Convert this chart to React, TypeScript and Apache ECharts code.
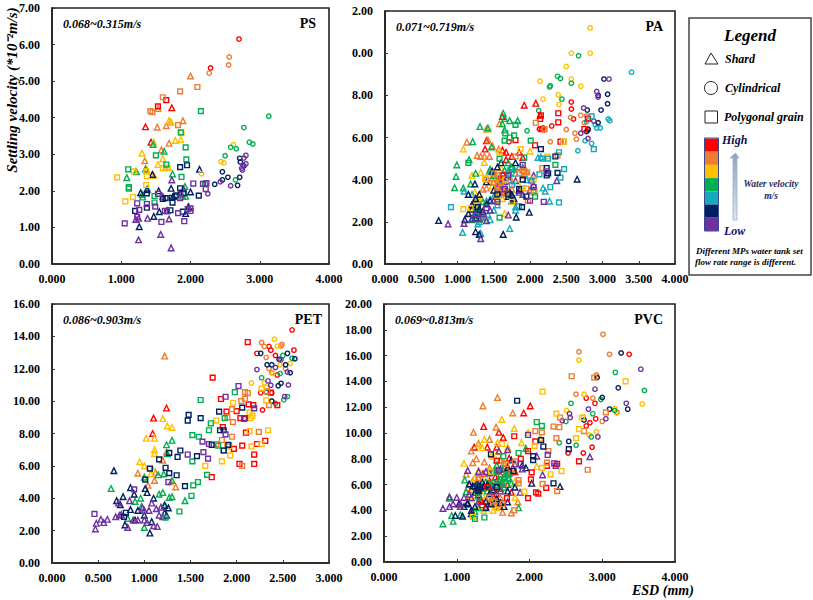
import React, { useEffect, useRef } from "react";
import * as echarts from "echarts";

const COLORS = ["#FF0000", "#ED7D31", "#FFC000", "#00B050", "#17A9BD", "#002060", "#7030A0"];
const FONT = '"Liberation Serif", "Times New Roman", serif';

// every list: [red, orange, yellow, green, cyan, navy, purple], points [ESD, velocity]
const psCircle = [
  [[2.7,6.15],[2.29,5.36]],
  [[2.56,5.66],[2.55,5.44],[2.27,5.22]],
  [[2.62,3.26],[2.44,2.8],[2.48,2.77],[2.16,2.47]],
  [[3.13,4.04],[2.77,3.73],[2.85,3.33],[2.9,3.28],[2.58,3.19],[2.66,3.15],[2.5,2.96],[2.65,2.3]],
  [],
  [[2.71,2.89],[2.72,2.79],[2.77,2.68],[2.46,2.52],[2.54,2.37],[2.71,2.37],[2.46,2.3],[2.35,2.18],[2.68,2.15]],
  [[2.8,2.97],[2.77,2.9],[2.8,2.74],[2.76,2.7],[2.74,2.62],[2.75,2.57],[2.43,2.25],[2.58,2.14],[2.25,1.92]],
];
const psTriangle = [
  [[1.73,4.27],[1.35,3.75],[1.43,3.33]],
  [[2,5.14],[1.53,4.25],[1.52,3.74],[1.65,3.78],[1.71,3.88],[1.89,3.92],[1.69,3.3],[1.58,3.12],[1.34,2.82]],
  [[1.69,3.92],[1.72,3.88],[1.78,3.38],[1.86,3.4],[1.47,3.33],[1.3,3.03],[1.6,2.88],[1.53,2.72],[1.64,2.65],[1.68,2.65],[1.37,2.58],[1.47,2.42],[1.21,2.54]],
  [[1.46,3.27],[1.62,3.08],[1.74,2.46],[1.08,2.36],[1.22,2.52],[1.35,2.6],[1.3,1.9],[1.31,1.83],[1.38,2.05],[1.92,2.12],[1.93,1.85],[1.89,1.85]],
  [],
  [[2.13,2.59],[1.45,2.45],[1.28,1.95],[2,1.97],[1.54,2],[1.72,2.07],[1.26,1.02],[1.47,1.3],[1.55,1.43],[1.66,1.46],[1.93,1.38],[1.97,1.57],[1.37,2.03],[1.75,1.85]],
  [[1.73,2.3],[1.9,2.05],[1.25,1.25],[1.21,1.22],[1.38,1.25],[1.69,1.23],[1.25,0.66],[1.57,0.81],[1.72,0.44],[1.6,1.85],[1.85,1.95]],
];
const psSquare = [
  [[1.65,4.48],[1.53,4.31]],
  [[2.1,4.84],[1.85,4.72],[1.6,4.56],[1.42,4.18],[1.45,4.15],[1.82,3.8]],
  [[1.87,3.58],[0.94,2.37],[1.18,2.53],[1.36,2.54],[1.37,2.4],[1.36,2.16],[1.17,1.83],[1.06,1.71],[1.6,2.62],[1.67,2.62]],
  [[2.15,4.18],[1.86,3.6],[1.93,3.19],[1.5,2.97],[1.94,2.86],[1.65,2.72],[1.1,2.59],[1.87,2.38],[1.11,2.1],[1.11,2.06],[1.48,1.86],[1.48,1.68],[2.21,2.18]],
  [],
  [[1.85,2.65],[1.95,2.7],[1.85,2.07],[1.37,1.93],[1.2,1.45],[1.37,1.54],[1.6,1.78],[1.64,1.8],[1.73,1.81],[1.78,1.85],[1.8,1.88],[1.9,1.93],[2.12,1.87],[1.74,1.68],[1.71,1.47],[1.89,1.43]],
  [[2.04,2.2],[2.18,2.19],[2.23,2.21],[2.22,2.05],[1.23,1.66],[1.37,1.64],[1.26,1.48],[1.49,1.57],[1.23,1.29],[1.05,1.11],[1.58,1.15],[1.63,1.45],[1.66,1.44],[1.82,1.39],[1.91,1.17],[2,1.45],[2,1.52],[1.96,1.5],[1.53,1.92],[1.85,1.8]],
];

const paCircle = [
  [[2.57,7.68],[2.57,7.35],[2.6,6.88],[2.3,6.55],[2.13,6.4],[2.18,6.45],[2.8,6.35],[1.71,5.8]],
  [[2.56,6.95],[2.5,6.38],[2.62,6.2],[2.64,5.92],[2.28,5.8],[2.7,7.05],[2.78,7.02],[2.75,6.7],[2.2,6.35]],
  [[2.83,11.2],[2.57,10],[2.83,10],[2.5,9.37],[2.57,8.77],[2.14,8.67],[2.7,8.43],[2.39,8.03],[2.18,7.82],[2.4,7.57]],
  [[2.67,9.88],[2.38,8.9],[2.42,8.8],[2.28,8.45],[2.27,8.4],[2.57,8.57],[2.44,7.82],[2.12,7.28],[1.96,6.32]],
  [[3.4,9.1],[3.08,6.88],[3.1,6.8],[2.97,6.45],[2.92,6.45],[2.9,6.6],[2.85,5.72],[2.76,5.85],[2.66,5.37],[2.78,6.75]],
  [[3.02,8.77],[3.07,8.05],[2.94,8],[2.98,7.3],[3.07,7.6],[2.79,7.3],[2.94,6.7],[2.8,6.4],[2.78,6.28]],
  [[3.09,8.77],[2.92,8.18],[2.94,7.92],[2.74,7.4],[2.88,6.78],[2.8,5.95],[2.7,6.2]],
];
const paTriangle = [
  [[1.92,7.53],[2.08,7.62],[2.14,7.05],[1.62,7],[1.4,5.85],[1.38,5.45],[1.62,5.4],[1.67,5.3],[1.67,4.95],[1.75,5.1],[1.85,5.3],[1.59,4.15],[1.9,5.05]],
  [[1.58,6.65],[1.4,6.4],[1.13,5.78],[1.42,5.88],[1.48,5.6],[1.57,5.45],[1.27,5.15],[1.32,5.1],[1.37,5.1],[1.44,5.1],[1.5,4.2],[1.4,3.6],[1.35,3.55],[1.9,4.45],[1.5,3.9],[1.55,4],[1.6,3.5],[1.65,3.7],[1.45,3.9],[1.9,4.2],[1.95,4.4],[1.93,4.25],[1.7,4.35],[1.75,3.55],[1.58,3.4],[1.22,2.95]],
  [[1.42,6.4],[1.08,5.45],[1.37,4.82],[1.2,4.2],[1.32,4.35],[1.43,4.35],[1.58,5.35],[1.24,3.4],[1.26,3],[1.28,2.8],[1.27,3.05],[1.15,2.35],[1.36,2.1],[1.65,2.4],[1.52,3.3],[1.55,3.75],[2,5.35],[1.78,3],[1.28,3],[1.28,3.2],[1.3,2.95],[1.29,2.7],[1.33,3.1],[1.5,4.3],[1.6,4.55],[1.55,4.1],[1.72,3.2],[1.62,3.1],[1.2,2.65],[1.48,3.7]],
  [[1.63,7.15],[1.65,6.9],[1.62,6.65],[1.72,6.8],[1.83,6.8],[1.31,6.52],[1.42,6.45],[1.65,6.35],[1.21,5.8],[1.47,5.55],[0.99,4.7],[1.16,4.95],[0.98,4.15],[0.96,3.62],[1.18,3.8],[1.08,3.6],[1.25,4.3],[1.45,4.5],[1.55,3.1],[1.35,2.95],[1.3,2.45],[1.27,2.3],[1.3,2.15],[1.2,2.1],[1.45,3.05],[1.27,2.5],[1.3,2.65],[1.25,2.4],[1.33,2.2],[1.65,4.45],[1.7,4.8],[1.6,4],[1.5,4.2],[1.75,4.6]],
  [[1.07,1.5],[1.72,1.68],[1.32,1.45],[1.09,3.45],[1.2,3.3],[1.25,3.1],[1.4,3],[1.5,2.55],[1.42,2.35],[1.45,4.4],[1.63,4.3],[1.7,4.45],[1.78,4.5],[1.8,2.7],[2.27,2.98],[2.21,3.45],[2.18,3.6],[2.11,5.05],[2.15,5.07],[1.75,3.25],[1.8,2.55],[1.25,2.5],[1.3,2],[1.35,2.2],[1.45,2.1],[1.6,3.8],[1.65,4],[1.72,4.3],[1.8,4.3],[1.5,3.2],[1.55,2.8],[1.28,1.9],[1.9,4.6],[1.95,4],[1.85,4.6],[2.05,3.5]],
  [[0.74,2.06],[1.24,3.8],[1.25,1.53],[1.3,1.4],[1.63,1.4],[1.81,2.22],[1.99,2.45],[2.65,4.02],[1.2,2.15],[1.1,2.1],[1.4,2.85],[1.55,4.6],[1.6,4.8],[1.8,4.8],[1.72,3.4],[1.7,3.2],[1.75,3.3],[1.78,3.1],[1.15,3.3],[1.2,2.6],[1.2,2.8],[1.25,3.1],[1.35,2.5],[1.15,2.4],[1.3,3.3],[1.45,3],[1.5,3.5],[1.62,3.4],[1.68,3.5],[1.4,3.9],[1.48,4.4],[1.75,3],[1.25,2.2],[1.3,2.6],[1.85,3.5]],
  [[0.87,1.9],[1.32,1.2],[1.09,1.92],[1.7,2.32],[1.2,2.15],[1.4,2.05],[1.6,3.55],[2.37,3.95],[1.72,3.95],[1.8,3.95],[2.05,3.75],[1.25,2.4],[1.35,2.4],[2.05,4.2],[1.3,2.15],[1.45,2.55],[1.5,3],[1.55,3.65],[1.65,3.9],[1.85,3.4],[1.9,3.3],[2,3.5],[2.02,4]],
];
const paSquare = [
  [[2.39,7.15],[2.39,6.72],[2.14,6.88],[2.15,7.05],[2.8,6.9],[2.75,6.4],[1.8,5.88],[2.07,5.63],[2.42,5.8],[2.16,6.4],[1.6,4.05],[1.62,4.2]],
  [[2.08,6.7],[2.2,6.4],[2.46,5.8],[2.38,5.15],[2.17,4.55],[1.92,4.4],[1.9,4.45],[1.96,4.35],[1.8,5.1],[1.6,3.6],[1.55,3.5],[1.4,4],[1.65,3.3],[1.95,3.58],[1.97,3],[2.05,3.4],[1.55,4.2],[1.5,4.3],[1.85,4.3],[1.5,3.85],[1.6,3.9],[1.67,3.4],[1.72,3.95]],
  [[1.87,5.45],[2.24,5.1],[1.38,4.05],[1.66,4],[1.08,2.6],[1.18,2.65],[2.47,5.8],[2.05,4],[2.07,3.4],[1.55,3],[1.75,2.95],[1.9,3.6],[1.83,3.8]],
  [[1.65,5.85],[1.66,6.2],[1.8,6.6],[1.78,6.1],[1.72,6],[2.01,5.85],[1.58,5],[1.92,5.05],[2.35,4.7],[2.07,3.2],[1.58,2.2],[1.75,4.5],[1.15,4.8]],
  [[0.91,2.7],[2.4,2.92],[2.88,5.45],[2.85,7],[2.47,4.5],[2.42,4.1],[2.17,5],[2.25,5],[2.4,5.3],[2.28,3.65],[2.02,3.95],[2.13,4.25],[1.85,2.75],[1.75,3.75],[1.7,4.25]],
  [[2.15,5.45],[2.35,5.1],[2.23,4.55],[2.23,4.2],[2.38,4.32],[2.25,4.3],[1.89,2.7],[1.9,4],[1.28,2.7],[1.55,3.3],[1.7,3.3],[1.85,3.55],[1.95,3.2]],
  [[2.19,2.95],[2,3],[1.55,2.95],[1.9,4.7],[2.05,3.65],[1.65,3.55],[1.4,2.65],[1.7,4.2],[2.23,4.4]],
];

const petCircle = [
  [[2.6,14.4],[2.62,13.15],[2.35,13.38],[2.37,13.15],[2.22,12.95],[2.42,12.82],[2.44,11.62],[2.26,10.52],[2.38,10.52],[2.28,9.45]],
  [[2.27,13.62],[2.3,13.38],[2.32,12.7],[2.49,13.5],[2.48,13.4],[2.35,12.02],[2.38,11.75],[2.53,12],[2.38,10]],
  [[2.41,13.82],[2.44,13.4],[2.47,12.25],[2.58,12.33],[2.39,11.7],[2.16,11.12],[2.3,11.12],[2.32,10.85]],
  [[2.5,12.82],[2.6,12.65],[2.27,11.45],[2.55,10.28],[2.51,10.08],[2.32,10.55],[2.47,11.7],[2.42,9.85]],
  [],
  [[2.26,12.95],[2.55,12.95],[2.63,12.62],[2.46,12.58],[2.33,12.25],[2.38,12.25],[2.53,12.25],[2.58,11.75],[2.45,10.95],[2.48,11.1],[2.38,10]],
  [[2.48,12.55],[2.42,12.08],[2.22,11.95],[2.55,11.8],[2.34,11.25],[2.37,10.98],[2.56,11],[2.52,10.28]],
];
const petTriangle = [
  [[1.24,9.57],[1.1,8.95],[1.09,8]],
  [[1.22,12.78],[1.24,6.85],[1.2,6.35],[0.93,5.55],[1.11,5.1],[1.04,4.8],[1.34,4.7],[1.12,5.6]],
  [[1.2,8.92],[1.25,8.47],[1.3,8.37],[1.02,7.7],[1.11,7.7],[1.11,7],[1.11,6.75],[0.95,6.25],[1,6],[1.09,5.8],[1.07,5.5],[1.29,5]],
  [[1.3,7.58],[1.24,7.3],[1.25,6.75],[1.21,5.5],[0.64,4.6],[0.96,4],[1,5.3],[1.15,5.45],[1.3,5.1],[1.16,4.25],[1.2,4.35],[0.9,3.8],[0.97,3.5],[1.44,3.85],[1.27,4.05],[1.3,4.1],[1.22,3.6],[0.82,2.75],[1,2.2]],
  [],
  [[0.67,5.7],[0.85,4.65],[1.01,4.6],[1.03,4.35],[0.77,4.1],[0.89,4.25],[0.7,3.85],[0.74,3.6],[1.22,3.55],[1.26,3.4],[1,2.95],[0.9,2.65],[0.79,2.35],[1.08,2.55],[1.06,1.85],[1.22,3.1],[1.24,2.95],[0.85,3.3],[0.93,3.25],[1.1,4]],
  [[0.47,2.1],[0.48,2.45],[0.53,2.7],[0.56,2.5],[0.6,2.7],[0.69,2.85],[0.73,2.95],[0.75,3],[0.82,2.2],[0.72,3.7],[0.84,3.85],[0.88,2.65],[0.93,2.65],[0.98,3.4],[1,2.65],[1.03,2.5],[1,3.25],[1.05,3.25],[1.08,3.7],[1.1,2.3],[1.13,3.35],[1.14,2.25],[1.16,2.95],[1.18,3.45],[1.2,2.85]],
];
const petSquare = [
  [[2.12,13.65],[1.74,11.45],[1.83,10.13],[2.13,9.8],[2.18,9.75],[1.89,9.35],[2,9.38],[2.04,8.95],[2.08,8.9],[1.85,8.4],[2.1,8.05],[2.06,7.25],[2.22,7.35],[1.97,7.05],[2.19,6.7],[2.31,7.55],[2.03,6.12],[2.19,6.12],[1.73,5.3],[2.44,9.75],[2.37,10.52]],
  [[2.09,10.55],[2.12,10.5],[2.05,10],[2.09,10.15],[1.95,9.5],[1.9,9],[2.35,9.75],[1.96,8.7],[2.24,8.1],[1.84,7.6],[1.95,7.8],[1.9,7.2],[1.78,7.35],[2.06,6],[2.33,10.6]],
  [[2.27,10.78],[2.32,10.05],[1.96,9.9],[2.14,9.3],[2.17,9.1],[2.15,8.95],[1.78,8.8],[2.14,8.15],[2.34,8.2],[1.92,7.25],[2.16,7.2],[2.27,7.35],[1.93,6.65],[1.84,6.28],[1.66,6]],
  [[1.61,10.07],[1.98,10.55],[1.72,8.63],[1.87,8.95],[1.7,8.2],[1.52,7.9],[1.59,7.8],[1.8,7.25],[1.52,6.28],[1.68,5.45],[1.58,5],[1.53,4.8],[1.51,4.15],[1.38,3.18],[1.23,2.8],[1.86,6.95]],
  [],
  [[1.48,9.15],[1.47,8.8],[1.61,8.95],[1.81,9.35],[2.06,9.6],[1.82,8.2],[1.86,8.2],[1.91,7.3],[1.73,7.3],[1.86,6.95],[1.27,6.8],[1.39,6.95],[1.36,6.55],[1.16,6.4],[1.57,6.6],[1.06,5.83],[1.23,5.88],[1.27,5.55],[1.35,5.42],[1.44,4.75],[1.01,5.15],[0.78,2.85],[0.8,3.1]],
  [[2.02,10.93],[1.88,10.27],[2.19,9.55],[2.09,8.95],[1.88,7.95],[1.63,7.5],[1.7,7.35],[1.47,6.7],[1.64,6.85],[1.69,6.45],[1.26,5],[0.89,4.55],[0.46,3.03]],
];

const pvcCircle = [
  [[3.37,16.1],[2.78,12.7],[2.9,12.3],[3.2,11.6],[2.91,11.1],[2.83,10.8],[2.78,10.55],[2.74,8.45],[2.86,8.9],[2.53,8.45]],
  [[3.01,17.65],[2.68,16.3],[3.1,16.1],[2.92,14.5],[2.64,13],[2.87,12.7],[3,10.9]],
  [[2.68,15.65],[2.75,13],[3.55,12.25],[3.17,11.9],[3.2,11.55],[2.51,11.75],[2.92,10.1],[2.82,9.85],[2.74,11.25]],
  [[3.18,14.7],[3.58,13.3],[2.57,12.3],[2.98,12.6],[2.87,11.5],[2.5,10.9],[2.85,9.7],[2.64,9.05],[2.41,9.25],[3.17,11.75]],
  [],
  [[3.26,16.2],[2.93,14.3],[3.22,13.5],[3,12.75],[3.1,11.85],[3.35,11.85],[2.54,9.35],[2.75,11]],
  [[3.53,14.95],[2.9,13.4],[3.33,12.3],[2.81,11.85],[2.55,11.5],[2.56,11.2],[3.05,11.1],[2.45,10.95],[2.94,9.7]],
];
const pvcTriangle = [
  [[2.01,12.1],[1.92,11.55],[1.37,10.5],[1.58,10.05],[1.64,9.65],[1.24,8.9],[1.42,8.9],[1.55,8.9],[1.72,8.05],[1.36,6.85],[1.77,7.3],[1.6,6],[1.53,6.6],[1.33,4.8],[1.5,5.8],[1.45,6.3],[1.55,6.3],[1.65,6.6],[1.7,6],[1.75,5.4],[1.6,5.7],[1.45,5.9],[1.55,5.3],[1.5,5.1],[1.4,4.3],[1.35,4.7],[1.7,7.4],[1.8,7],[1.72,6.9],[1.6,7.9]],
  [[1.36,12.1],[1.56,12.75],[1.77,11.55],[1.23,10.05],[1.54,10.45],[1.3,9.2],[1.45,9.5],[1.2,8.6],[1.27,8],[1.22,7.7],[1.38,7.75],[1.13,6.8],[1.15,5.75],[1.5,4.9],[1.55,4.5],[1.84,4.65],[1.75,3.8],[1.63,3.85],[1.3,6.5],[1.45,7.3],[1.55,7.5],[1.65,7.7],[1.7,7.2],[1.62,7],[1.48,5],[1.52,4.7],[1.58,4.3],[1.6,5],[1.45,4.6],[1.3,5.3],[1.2,5.6],[1.18,6],[1.22,6.3],[1.6,7.9]],
  [[1.62,11.05],[1.79,10.35],[1.98,10.05],[1.56,9.25],[1.7,8.9],[1.89,9.25],[1.38,9.5],[1.3,9.05],[1.35,8.85],[1.1,7.65],[1.3,7.1],[1.5,8.2],[1.58,8.55],[2.1,7.4],[1.25,6.5],[1.45,5],[1.2,4.9],[1.24,3.55],[1.37,4],[1.5,4],[1.05,4.3],[2.15,9.6],[1.8,6.25],[1.35,5.2],[1.4,6.6],[1.45,7],[1.48,8.3],[1.55,7.9],[1.25,5.2],[1.15,4.9],[1.6,5.5],[1.8,5],[1.55,4.2],[1.28,4.3]],
  [[1.11,6.35],[1.13,5.45],[0.81,2.95],[0.93,3.6],[0.95,3.15],[1.05,3.65],[1.25,3.9],[1.3,4.2],[1.85,4.2],[0.9,4.95],[1.35,5.9],[1.55,6],[1.65,6.5],[1.7,7],[1.45,6.1],[1.75,6.1],[1.55,7.5],[1.95,8.8],[1.3,6],[1.35,5.7],[1.4,6.2],[1.45,5.8],[1.5,6.2],[1.55,5.9],[1.58,6.3],[1.62,6],[1.65,5.8],[1.68,6.3],[1.72,6.5],[1.6,6.8],[1.5,7],[1.63,7.2],[1.28,5.6],[1.42,5.5]],
  [],
  [[1.17,6.05],[1.03,4.5],[0.98,3.6],[1.15,4.5],[1.2,4],[1.2,3.75],[1.45,5.3],[1.47,4.5],[1.7,4.65],[1.3,5.55],[2.03,6.1],[2.42,5.85],[1.7,5.5],[1.35,6.2],[1.8,5.8],[1.08,3.55],[1.22,5.9],[1.28,6.1],[1.32,5.8],[1.38,5.9],[1.42,6],[1.25,5.4],[1.3,5.2],[1.15,4.6],[1.1,4.3],[1.25,4.3],[1.4,4.7],[1.6,4.6],[1.65,4.3],[1.55,4.9],[1.4,4.2],[1.5,5.6],[1.75,7.9],[1.7,7.3],[1.9,7.5],[1.95,7.3]],
  [[0.81,4.15],[0.9,5.05],[1,5],[0.95,4.5],[0.9,4.3],[1.05,4.3],[1.17,5.25],[1.15,7.1],[1.3,7],[1.58,8.6],[1.7,8.7],[2.83,8.15],[1.87,5.4],[2.18,6.75],[2.1,8.2],[1.2,5],[1.4,7],[1.45,6.9],[1.55,7.1],[1.6,7.2],[1.05,4.5],[1.3,4.7],[1.1,5],[1.5,5.5],[1.6,5.5],[1.9,7.2],[1.8,7.6]],
];
const pvcSquare = [
  [[1.79,9.75],[1.98,8.6],[2.08,9.35],[1.55,7.85],[1.88,8],[2.38,7.6],[2.24,7.45],[2.03,6.95],[2.02,6.4],[2.23,5.75],[2.09,5.4],[2.12,5.3],[1.98,4.95],[2.68,7.8],[1.69,4.95],[1.35,4.4],[1.42,5.8]],
  [[2.58,14.4],[2.89,14.3],[3.05,11.6],[2.42,11.2],[2.33,10.5],[2.41,10.45],[2.75,10.15],[2.37,9.6],[2.08,10.15],[2.17,10.05],[2.26,8.6],[2.24,7.7],[2.8,7.15],[2.18,6.05],[2.38,5.5],[1.85,6.35],[1.85,6.1],[1.79,4],[1.63,4.5],[1.8,7.8],[1.55,7],[1.68,7.6],[1.5,4.7],[1.45,5],[1.75,6.9],[1.3,6.5]],
  [[2.18,13.2],[3.32,14],[2.37,11.5],[2.72,11.2],[2.68,10.3],[2.07,9],[1.62,9.15],[2.64,9.6],[2.44,7.05],[2.29,6.8],[2.17,7.3],[1.93,5.45],[1.47,7],[1.22,3.5]],
  [[2.1,10.85],[2.17,10.55],[1.85,8.45],[1.64,8.2],[1.38,3.45],[1.25,3.35],[1.3,5],[1.55,7],[1.7,6.5],[1.6,6.4],[1.72,6.8]],
  [],
  [[1.83,12.5],[2.16,9.45],[2.19,8.95],[2.54,8.75],[2.05,8.2],[2.05,7.9],[1.47,8.35],[2.33,6.1],[1.78,7.05],[1.55,5.8],[1.25,5.85],[1.3,5.6]],
  [[1.98,9.85],[2.25,8.3],[2.34,7.65],[2.36,7.45],[1.88,7.6],[1.58,7.1]],
];

const psXTicks = ["0.000", "1.000", "2.000", "3.000", "4.000"];
const psYTicks = ["0.00", "1.00", "2.00", "3.00", "4.00", "5.00", "6.00", "7.00"];
const paXTicks = ["0.000", "0.500", "1.000", "1.500", "2.000", "2.500", "3.000", "3.500", "4.000"];
const paYTicks = ["0.00", "2.00", "4.00", "6.00", "8.00", "0.00", "2.00"];
const petXTicks = ["0.000", "0.500", "1.000", "1.500", "2.000", "2.500", "3.000"];
const petYTicks = ["0.00", "2.00", "4.00", "6.00", "8.00", "10.00", "12.00", "14.00", "16.00"];
const pvcXTicks = ["0.000", "1.000", "2.000", "3.000", "4.000"];
const pvcYTicks = ["0.00", "2.00", "4.00", "6.00", "8.00", "10.00", "12.00", "14.00", "16.00", "18.00", "20.00"];

const panelNames = ["PS", "PA", "PET", "PVC"];
const panelRanges = ["0.068~0.315m/s", "0.071~0.719m/s", "0.086~0.903m/s", "0.069~0.813m/s"];
const shapeNames = ["Shard", "Cylindrical", "Polygonal grain"];

const panels = [
  { circle: psCircle, tri: psTriangle, sq: psSquare, xt: psXTicks, yt: psYTicks, xi: 1, yi: 1, box: [52, 8, 277, 256], nameRight: 13 },
  { circle: paCircle, tri: paTriangle, sq: paSquare, xt: paXTicks, yt: paYTicks, xi: 0.5, yi: 2, box: [385, 11, 290, 253], nameRight: 12 },
  { circle: petCircle, tri: petTriangle, sq: petSquare, xt: petXTicks, yt: petYTicks, xi: 0.5, yi: 2, box: [52, 304, 277, 259], nameRight: 7 },
  { circle: pvcCircle, tri: pvcTriangle, sq: pvcSquare, xt: pvcXTicks, yt: pvcYTicks, xi: 1, yi: 2, box: [384, 304, 291, 258], nameRight: 12 },
];

function buildOption() {
  const grid: any[] = [];
  const xAxis: any[] = [];
  const yAxis: any[] = [];
  const series: any[] = [];
  const graphic: any[] = [];
  const label = { fontFamily: FONT, fontWeight: "bold", fontSize: 12, color: "#000" };
  const line = { show: true, onZero: false, lineStyle: { color: "#222", width: 1.6 } };
  const tick = { show: true, length: 3, inside: true, lineStyle: { color: "#333", width: 1 } };

  panels.forEach((p, i) => {
    const [left, top, width, height] = p.box;
    grid.push({ left, top, width, height, show: true, backgroundColor: "transparent", borderColor: "#222", borderWidth: 1.6 });
    xAxis.push({
      type: "value", gridIndex: i, min: 0, max: p.xi * (p.xt.length - 1), interval: p.xi,
      splitLine: { show: false }, axisLine: line, axisTick: tick,
      axisLabel: { ...label, margin: 9, showMaxLabel: true, hideOverlap: false, formatter: (v: number) => p.xt[Math.round(v / p.xi)] },
    });
    yAxis.push({
      type: "value", gridIndex: i, min: 0, max: p.yi * (p.yt.length - 1), interval: p.yi,
      splitLine: { show: false }, axisLine: line, axisTick: tick,
      axisLabel: { ...label, margin: 12, showMaxLabel: true, hideOverlap: false, formatter: (v: number) => p.yt[Math.round(v / p.yi)] },
    });
    const groups: [string, number, any[][][]][] = [
      ["triangle", 5.6, p.tri],
      ["circle", 4.4, p.circle],
      ["rect", 4.8, p.sq],
    ];
    groups.forEach(([symbol, size, lists]) => {
      lists.forEach((data, c) => {
        if (!data.length) return;
        series.push({
          type: "scatter", xAxisIndex: i, yAxisIndex: i, symbol, symbolSize: size, data,
          itemStyle: { color: "transparent", borderColor: COLORS[c], borderWidth: 1.4, opacity: 1 },
          silent: true,
        });
      });
    });
    graphic.push({ type: "text", x: left + 11, y: top + 16, style: { text: panelRanges[i], font: `italic bold 12px ${FONT}`, fill: "#000", textAlign: "left", textVerticalAlign: "middle" } });
    graphic.push({ type: "text", x: left + width - p.nameRight, y: top + 15, style: { text: panelNames[i], font: `bold 14px ${FONT}`, fill: "#000", textAlign: "right", textVerticalAlign: "middle" } });
  });

  graphic.push({ type: "text", x: 12, y: 90, rotation: Math.PI / 2, style: { text: "Settling velocity (*10⁻²m/s)", font: `italic bold 15px ${FONT}`, fill: "#000", textAlign: "center", textVerticalAlign: "middle" } });
  graphic.push({ type: "text", x: 632, y: 590, style: { text: "ESD (mm)", font: `italic bold 14px ${FONT}`, fill: "#000", textAlign: "left", textVerticalAlign: "middle" } });

  // legend panel
  graphic.push({ type: "rect", shape: { x: 689, y: 18, width: 122, height: 257 }, style: { fill: "#fff", stroke: "#444", lineWidth: 1.5 } });
  graphic.push({ type: "text", x: 750, y: 35, style: { text: "Legend", font: `italic bold 17px ${FONT}`, fill: "#000", textAlign: "center", textVerticalAlign: "middle" } });
  graphic.push({ type: "polygon", shape: { points: [[705, 64], [711, 53], [718, 64]] }, style: { fill: "none", stroke: "#222", lineWidth: 1 } });
  graphic.push({ type: "circle", shape: { cx: 711, cy: 88, r: 6.5 }, style: { fill: "none", stroke: "#222", lineWidth: 1 } });
  graphic.push({ type: "rect", shape: { x: 705, y: 111, width: 12.5, height: 12 }, style: { fill: "none", stroke: "#222", lineWidth: 1 } });
  [[725, 59], [725, 88], [724, 117]].forEach(([x, y], i) => {
    graphic.push({ type: "text", x, y, style: { text: shapeNames[i], font: `italic bold 12px ${FONT}`, fill: "#000", textAlign: "left", textVerticalAlign: "middle" } });
  });
  COLORS.forEach((c, i) => {
    graphic.push({ type: "rect", shape: { x: 705, y: 138.5 + i * 13.2, width: 13, height: 13.2 }, style: { fill: c } });
  });
  graphic.push({ type: "rect", shape: { x: 704.5, y: 138, width: 14, height: 93 }, style: { fill: "none", stroke: "#3B4A8A", lineWidth: 1 } });
  graphic.push({ type: "text", x: 722, y: 140, style: { text: "High", font: `italic bold 12px ${FONT}`, fill: "#101040", textAlign: "left", textVerticalAlign: "middle" } });
  graphic.push({ type: "text", x: 724, y: 231, style: { text: "Low", font: `italic bold 12px ${FONT}`, fill: "#101060", textAlign: "left", textVerticalAlign: "middle" } });
  graphic.push({
    type: "polygon",
    shape: { points: [[733, 220], [733, 158], [730, 158], [735.5, 153], [739, 158], [737, 158], [737, 220]] },
    style: { fill: new echarts.graphic.LinearGradient(0, 0, 0, 1, [{ offset: 0, color: "#8EA3C4" }, { offset: 1, color: "#DCE4EE" }]), stroke: "#9FB0C8", lineWidth: 0.8 },
  });
  graphic.push({ type: "text", x: 771, y: 184, style: { text: "Water velocity", font: `italic bold 9.5px ${FONT}`, fill: "#1F2A60", textAlign: "center", textVerticalAlign: "middle" } });
  graphic.push({ type: "text", x: 771, y: 196, style: { text: "m/s", font: `italic bold 9.5px ${FONT}`, fill: "#1F2A60", textAlign: "center", textVerticalAlign: "middle" } });
  graphic.push({ type: "text", x: 696, y: 251, style: { text: "Different MPs water tank set", font: `italic bold 9px ${FONT}`, fill: "#000", textAlign: "left", textVerticalAlign: "middle" } });
  graphic.push({ type: "text", x: 695, y: 262, style: { text: "flow rate range is different.", font: `italic bold 9px ${FONT}`, fill: "#000", textAlign: "left", textVerticalAlign: "middle" } });

  return { animation: false, backgroundColor: "#fff", grid, xAxis, yAxis, series, graphic };
}

export default function App() {
  const ref = useRef<HTMLDivElement>(null);
  useEffect(() => {
    const chart = echarts.init(ref.current!, undefined, { renderer: "svg" });
    chart.setOption(buildOption() as any);
    return () => chart.dispose();
  }, []);
  return <div ref={ref} style={{ position: "absolute", left: 0, top: 0, width: 813, height: 600 }} />;
}
